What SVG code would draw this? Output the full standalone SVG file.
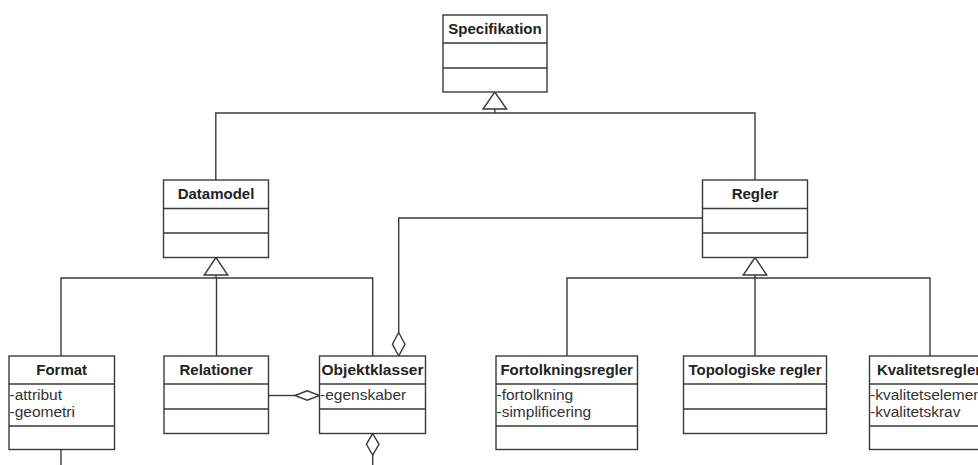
<svg xmlns="http://www.w3.org/2000/svg" width="978" height="465" viewBox="0 0 978 465">
  <style>
    .box { fill: #ffffff; stroke: #3a3a3a; stroke-width: 1.4; }
    .sep { stroke: #3a3a3a; stroke-width: 1.4; fill: none; }
    .line { stroke: #3a3a3a; stroke-width: 1.4; fill: none; }
    .head { fill: #ffffff; stroke: #3a3a3a; stroke-width: 1.4; stroke-linejoin: miter; }
    .title { font-family: "Liberation Sans", Arial, sans-serif; font-size: 15px; font-weight: bold; fill: #222222; text-anchor: middle; }
    .attr { font-family: "Liberation Sans", Arial, sans-serif; font-size: 15.5px; fill: #333333; }
  </style>
  <rect width="978" height="465" fill="#ffffff"/>

  <!-- connectors -->
  <g id="connectors">
    <!-- generalization: Datamodel / Regler -> Specifikation -->
    <path class="line" d="M215.8 180 V113 H755 V180"/>
    <path class="line" d="M494.8 113 V109"/>
    <polygon class="head" points="494.8,92 483,109 506.6,109"/>

    <!-- generalization: Format / Relationer / Objektklasser -> Datamodel -->
    <path class="line" d="M61 356 V278 H372.7 V356"/>
    <path class="line" d="M216.5 278 V356"/>
    <path class="line" d="M216 278 V275"/>
    <polygon class="head" points="216,257.5 204.2,275 227.8,275"/>

    <!-- generalization: rule classes -> Regler -->
    <path class="line" d="M567 356 V278 H930 V356"/>
    <path class="line" d="M755 275 V356"/>
    <polygon class="head" points="755,257.5 743.2,275 766.8,275"/>

    <!-- aggregation: Regler <>- Objektklasser -->
    <path class="line" d="M702.5 218 H398.7 V332.5"/>
    <polygon class="head" points="398.7,332.5 405,344.2 398.7,356 392.4,344.2"/>

    <!-- aggregation: Relationer -<> Objektklasser -->
    <path class="line" d="M268.5 395.5 H295"/>
    <polygon class="head" points="295,395.5 307.2,390.8 319.5,395.5 307.2,400.2"/>

    <!-- aggregation below Objektklasser -->
    <polygon class="head" points="372.7,433.5 379,444.3 372.7,455 366.4,444.3"/>
    <path class="line" d="M372.7 455 V465"/>

    <!-- line below Format -->
    <path class="line" d="M61 449.5 V465"/>
  </g>

  <g id="specifikation">
    <rect class="box" x="443" y="15" width="104" height="77"/>
    <path class="sep" d="M443 43 H547 M443 68 H547"/>
    <text class="title" x="495" y="33.5">Specifikation</text>
  </g>

  <g id="datamodel">
    <rect class="box" x="163.5" y="180" width="105" height="77.5"/>
    <path class="sep" d="M163.5 208.5 H268.5 M163.5 233 H268.5"/>
    <text class="title" x="216" y="198.5">Datamodel</text>
  </g>

  <g id="regler">
    <rect class="box" x="702.5" y="180" width="105" height="77.5"/>
    <path class="sep" d="M702.5 208.5 H807.5 M702.5 233 H807.5"/>
    <text class="title" x="755" y="198.5">Regler</text>
  </g>

  <g id="format">
    <rect class="box" x="9" y="356" width="105.5" height="93.5"/>
    <path class="sep" d="M9 384 H114.5 M9 426 H114.5"/>
    <text class="title" x="61.7" y="374.5">Format</text>
    <text class="attr" x="9.5" y="399.5">-attribut</text>
    <text class="attr" x="9.5" y="416.5">-geometri</text>
  </g>

  <g id="relationer">
    <rect class="box" x="164" y="356" width="104.5" height="77.5"/>
    <path class="sep" d="M164 384 H268.5 M164 409 H268.5"/>
    <text class="title" x="216.2" y="374.5">Relationer</text>
  </g>

  <g id="objektklasser">
    <rect class="box" x="319.5" y="356" width="106" height="77.5"/>
    <path class="sep" d="M319.5 384 H425.5 M319.5 409 H425.5"/>
    <text class="title" x="372.5" y="374.5" textLength="102" lengthAdjust="spacingAndGlyphs">Objektklasser</text>
    <text class="attr" x="320" y="399.5">-egenskaber</text>
  </g>

  <g id="fortolkningsregler">
    <rect class="box" x="496" y="356" width="141.5" height="93.5"/>
    <path class="sep" d="M496 384 H637.5 M496 426 H637.5"/>
    <text class="title" x="566.7" y="374.5">Fortolkningsregler</text>
    <text class="attr" x="496.5" y="400">-fortolkning</text>
    <text class="attr" x="496.5" y="417">-simplificering</text>
  </g>

  <g id="topologiske-regler">
    <rect class="box" x="683.5" y="356" width="143" height="77.5"/>
    <path class="sep" d="M683.5 384 H826.5 M683.5 409 H826.5"/>
    <text class="title" x="755" y="374.5">Topologiske regler</text>
  </g>

  <g id="kvalitetsregler">
    <rect class="box" x="869.5" y="356" width="121" height="93.5"/>
    <path class="sep" d="M869.5 384 H990.5 M869.5 426 H990.5"/>
    <text class="title" x="929" y="374.5">Kvalitetsregler</text>
    <text class="attr" x="870" y="400">-kvalitetselementer</text>
    <text class="attr" x="870" y="417">-kvalitetskrav</text>
  </g>
</svg>
